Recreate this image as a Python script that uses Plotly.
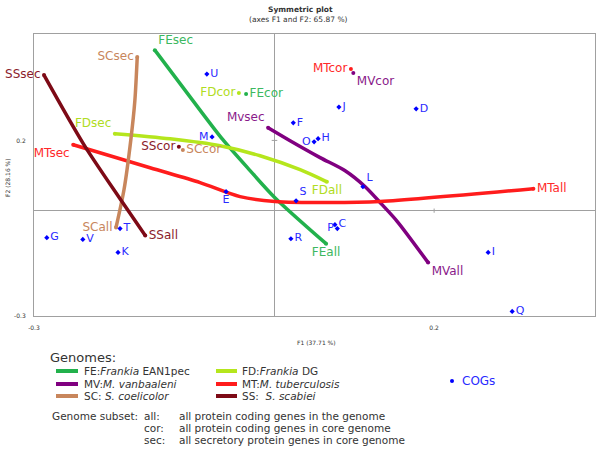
import plotly.graph_objects as go

# COG coordinates on F1 / F2
cog_labels = ['U', 'M', 'E', 'F', 'J', 'D', 'O', 'H', 'L', 'S', 'C', 'P', 'R', 'I', 'Q', 'G', 'V', 'T', 'K']
cog_f1 = [-0.084, -0.0775, -0.06, 0.024, 0.081, 0.1775, 0.05, 0.055, 0.111, 0.0275,
          0.076, 0.079, 0.021, 0.2675, 0.2975, -0.284, -0.239, -0.1925, -0.195]
cog_f2 = [0.389, 0.21, 0.054, 0.25, 0.295, 0.29, 0.196, 0.205, 0.068, 0.028,
          -0.04, -0.051, -0.08, -0.119, -0.287, -0.077, -0.082, -0.051, -0.119]

# genome trajectories, from the "sec" subset to the "all" subset
fe_f1 = [-0.149, -0.105, -0.064, -0.03, 0.001, 0.065]
fe_f2 = [0.457, 0.324, 0.202, 0.114, 0.037, -0.094]
fd_f1 = [-0.199, -0.13, -0.0675, -0.0175, 0.0325, 0.066]
fd_f2 = [0.219, 0.2045, 0.1847, 0.1563, 0.1165, 0.082]
mv_f1 = [-0.0075, 0.02, 0.0575, 0.0888, 0.1138, 0.135, 0.154, 0.1925]
mv_f2 = [0.236, 0.199, 0.151, 0.1136, 0.0682, 0.017, -0.031, -0.148]
mt_f1 = [-0.251, -0.155, -0.0925, -0.0425, 0.001, 0.07, 0.1325, 0.324]
mt_f2 = [0.1875, 0.122, 0.08, 0.04, 0.026, 0.023, 0.026, 0.0625]
sc_f1 = [-0.171, -0.174, -0.179, -0.1875, -0.1975]
sc_f2 = [0.4375, 0.3125, 0.202, 0.06, -0.048]
ss_f1 = [-0.2875, -0.2375, -0.1925, -0.161]
ss_f2 = [0.386, 0.1875, 0.034, -0.071]

# "cor" subset points
cor_f1 = [-0.035, -0.044, 0.099, 0.096, -0.114, -0.119]
cor_f2 = [0.332, 0.335, 0.392, 0.403, 0.173, 0.182]

genome_codes = ['FE', 'FD', 'MV', 'MT', 'SC', 'SS']
genome_names = ['FE:<i>Frankia</i> EAN1pec', 'FD:<i>Frankia</i> DG',
                'MV:<i>M. vanbaaleni</i>', 'MT:<i>M. tuberculosis</i>',
                'SC: <i>S. coelicolor</i>', 'SS:  <i>S. scabiei</i>']
sec_labels = ['FEsec', 'FDsec', 'Mvsec', 'MTsec', 'SCsec', 'SSsec']
cor_labels = ['FEcor', 'FDcor', 'MVcor', 'MTcor', 'SCcor', 'SScor']
all_labels = ['FEall', 'FDall', 'MVall', 'MTall', 'SCall', 'SSall']

subset_keys = ['all:', 'cor:', 'sec:']
subset_desc = ['all protein coding genes in the genome',
               'all protein coding genes in core genome',
               'all secretory protein genes in core genome']

paths = [(fe_f1, fe_f2), (fd_f1, fd_f2), (mv_f1, mv_f2),
         (mt_f1, mt_f2), (sc_f1, sc_f2), (ss_f1, ss_f2)]

# Styles.
colors = ['#22b14c', '#b5e61d', '#800080', '#ff1c1c', '#c8865c', '#7d0a16']
text_colors = ['#3cb860', '#b0dc22', '#8a1a8a', '#ff2a2a', '#c8865c', '#8b1c2c']
point_pos = {
    'FE': ['top right', 'middle right', 'bottom center'],
    'FD': ['top left', 'middle left', 'bottom center'],
    'MV': ['top left', 'bottom right', 'bottom right'],
    'MT': ['bottom left', 'middle left', 'middle right'],
    'SC': ['middle left', 'middle right', 'middle left'],
    'SS': ['middle left', 'middle left', 'middle right'],
}
cog_pos = {'E': 'bottom center', 'O': 'middle left', 'P': 'middle left', 'M': 'middle left',
           'S': 'top right', 'L': 'top right'}
font_family = 'DejaVu Sans'
grey = '#a0a0a0'
txt = '#333333'

# Plot area in pixels: left 34, right 595, top 34, bottom 316.
L, R, T, B = 34, 595, 34, 316


def px_x(px):
    return (px - L) / (R - L)


def px_y(py):
    return (B - py) / (B - T)


fig = go.Figure()

# Genome trajectories.
for i, code in enumerate(genome_codes):
    f1, f2 = paths[i]
    fig.add_trace(go.Scatter(
        x=f1, y=f2, mode='lines', name=genome_names[i], showlegend=False,
        line=dict(color=colors[i], width=3.5, shape='spline', smoothing=0.8),
        hoverinfo='skip'
    ))

# Genome subset points with labels.
for i, code in enumerate(genome_codes):
    f1, f2 = paths[i]
    fig.add_trace(go.Scatter(
        x=[f1[0], cor_f1[i], f1[-1]],
        y=[f2[0], cor_f2[i], f2[-1]],
        mode='markers+text',
        text=[sec_labels[i], cor_labels[i], all_labels[i]],
        textposition=point_pos[code],
        textfont=dict(family=font_family, size=12, color=text_colors[i]),
        marker=dict(color=colors[i], size=4),
        showlegend=False,
        cliponaxis=False,
    ))

# COG points.
fig.add_trace(go.Scatter(
    x=cog_f1, y=cog_f2, mode='markers+text', text=cog_labels,
    textposition=[cog_pos.get(c, 'middle right') for c in cog_labels],
    textfont=dict(family=font_family, size=11, color='#2a2aff'),
    marker=dict(color='#0000ff', size=4, symbol='diamond'),
    showlegend=False, cliponaxis=False,
))

shapes = []
annotations = []

# Small tick marks on the zero axes.
shapes.append(dict(type='line', xref='x', yref='y', x0=-0.003, x1=0.004, y0=0.2, y1=0.2,
                   line=dict(color=grey, width=1)))
shapes.append(dict(type='line', xref='x', yref='y', x0=0.2, x1=0.2, y0=-0.006, y1=0.006,
                   line=dict(color=grey, width=1)))

# Title.
annotations.append(dict(xref='paper', yref='paper', x=px_x(300), y=px_y(9.5), text='<b>Symmetric plot</b>',
                        showarrow=False, xanchor='center', yanchor='middle',
                        font=dict(family=font_family, size=7.5, color=txt)))
annotations.append(dict(xref='paper', yref='paper', x=px_x(298), y=px_y(19), text='(axes F1 and F2: 65.87 %)',
                        showarrow=False, xanchor='center', yanchor='middle',
                        font=dict(family=font_family, size=7.5, color=txt)))

# Genome legend.
annotations.append(dict(xref='paper', yref='paper', x=px_x(48), y=px_y(357), text='Genomes:',
                        showarrow=False, xanchor='left', yanchor='middle',
                        font=dict(family=font_family, size=13, color=txt)))
rows = [371, 384, 396]
cols = [(56, 78, 82), (216, 237, 240)]
for i, name in enumerate(genome_names):
    row, col = divmod(i, 2)
    x0, x1, xt = cols[col]
    shapes.append(dict(type='line', xref='paper', yref='paper',
                       x0=px_x(x0), x1=px_x(x1), y0=px_y(rows[row]), y1=px_y(rows[row]),
                       line=dict(color=colors[i], width=4)))
    annotations.append(dict(xref='paper', yref='paper', x=px_x(xt), y=px_y(rows[row]),
                            text=name, showarrow=False, xanchor='left', yanchor='middle',
                            font=dict(family=font_family, size=10.5, color=txt)))

# Genome subset description.
sub_rows = [416, 428, 440]
annotations.append(dict(xref='paper', yref='paper', x=px_x(50), y=px_y(sub_rows[0]),
                        text='Genome subset:', showarrow=False, xanchor='left', yanchor='middle',
                        font=dict(family=font_family, size=10.5, color=txt)))
for i, key in enumerate(subset_keys):
    annotations.append(dict(xref='paper', yref='paper', x=px_x(142), y=px_y(sub_rows[i]),
                            text=key, showarrow=False, xanchor='left', yanchor='middle',
                            font=dict(family=font_family, size=10.5, color=txt)))
    annotations.append(dict(xref='paper', yref='paper', x=px_x(177), y=px_y(sub_rows[i]),
                            text=subset_desc[i], showarrow=False, xanchor='left', yanchor='middle',
                            font=dict(family=font_family, size=10.5, color=txt)))

# COGs legend entry.
shapes.append(dict(type='circle', xref='paper', yref='paper',
                   x0=px_x(450), x1=px_x(454), y0=px_y(379), y1=px_y(383),
                   fillcolor='#0000ff', line=dict(width=0)))
annotations.append(dict(xref='paper', yref='paper', x=px_x(460), y=px_y(381), text='COGs',
                        showarrow=False, xanchor='left', yanchor='middle',
                        font=dict(family=font_family, size=12, color='#2a2aff')))

# Axis titles.
annotations.append(dict(xref='paper', yref='paper', x=px_x(316), y=px_y(342), text='F1 (37.71 %)',
                        showarrow=False, xanchor='center', yanchor='middle',
                        font=dict(family=font_family, size=6, color=txt)))
annotations.append(dict(xref='paper', yref='paper', x=px_x(7), y=px_y(178), text='F2 (28.16 %)',
                        showarrow=False, xanchor='center', yanchor='middle', textangle=-90,
                        font=dict(family=font_family, size=6, color=txt)))

axis_common = dict(
    showgrid=False, zeroline=True, zerolinecolor=grey, zerolinewidth=1,
    showline=True, mirror=True, linecolor=grey, linewidth=1,
    ticks='', tickfont=dict(family=font_family, size=6, color=txt),
    fixedrange=True, ticklabelstandoff=6,
)

fig.update_layout(
    width=600, height=450,
    plot_bgcolor='white', paper_bgcolor='white',
    margin=dict(l=L, r=600 - R, t=T, b=450 - B, pad=0),
    showlegend=False,
    font=dict(family=font_family, color=txt),
    xaxis=dict(range=[-0.3, 0.401], tickvals=[-0.3, 0.2], ticktext=['-0.3', '0.2'], **axis_common),
    yaxis=dict(range=[-0.3, 0.503], tickvals=[-0.3, 0.2], ticktext=['-0.3', '0.2'], **axis_common),
    shapes=shapes,
    annotations=annotations,
)

# The page body has a default margin; drop it so the figure sits at the window's corner.
fig.write_html('out.html', post_script="document.body.style.margin='0';", config={'displayModeBar': False})
